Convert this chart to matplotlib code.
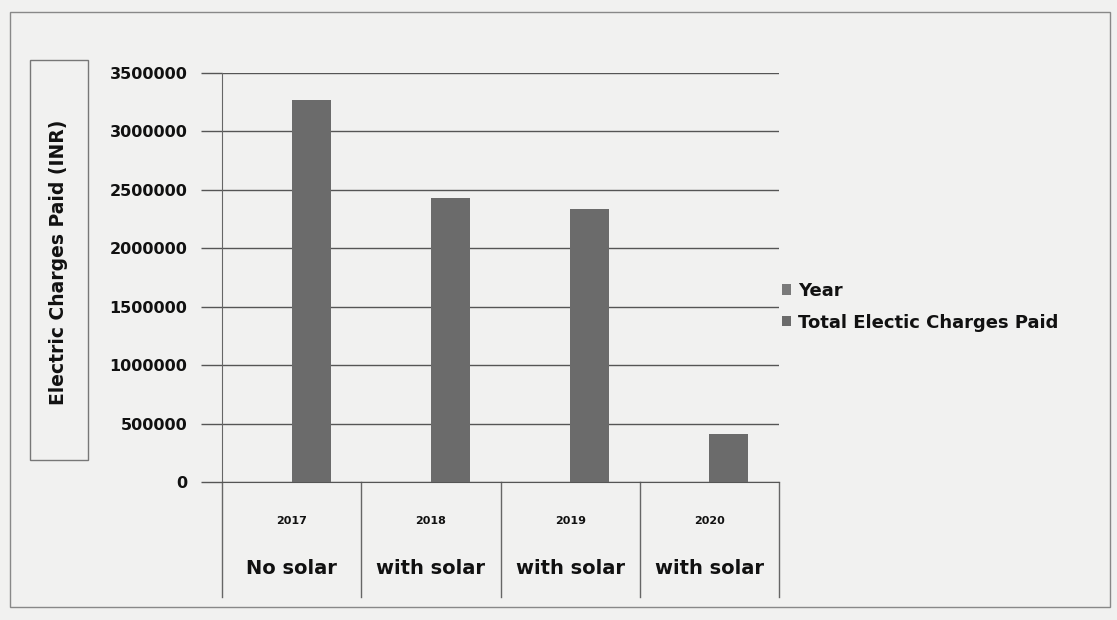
import matplotlib
matplotlib.use("Agg")
import matplotlib.pyplot as plt
from matplotlib.patches import Rectangle
import numpy as np

years = ["2017", "2018", "2019", "2020"]
conditions = ["No solar", "with solar", "with solar", "with solar"]
year_values = [2017, 2018, 2019, 2020]
total_charges = [3270000, 2430000, 2340000, 410000]
yticks = [0, 500000, 1000000, 1500000, 2000000, 2500000, 3000000, 3500000]

W, H = 1117, 620
fig = plt.figure(figsize=(W / 100, H / 100), dpi=100)
fig.patch.set_facecolor("#f1f1f0")
plt.rcParams['font.family'] = ['DejaVu Sans']

def fx(px):
    return px / W

def fy(py):
    return 1 - py / H

left, right, top, bottom = 222, 779, 73, 482
ax = fig.add_axes([fx(left), fy(bottom), fx(right - left), (bottom - top) / H])
ax.set_facecolor("none")

x = np.arange(len(years))
bw = 0.28
bar_col = "#6b6b6b"
b1 = ax.bar(x - bw / 2, year_values, width=bw, color="#7a7a7a", label="Year", zorder=3)
b2 = ax.bar(x + bw / 2, total_charges, width=bw, color=bar_col,
            label="Total Electic Charges Paid", zorder=3)

ax.set_xlim(-0.5, 3.5)
ax.set_ylim(0, 3500000)
ax.set_yticks(yticks)
ax.set_yticklabels([str(v) for v in yticks], fontsize=11.5, fontweight="bold", color="#111111")
ax.yaxis.grid(True, color="#555555", linewidth=1.0, zorder=1)
ax.set_xticks([])
for s in ["top", "right"]:
    ax.spines[s].set_visible(False)
ax.spines["left"].set_color("#666666")
ax.spines["bottom"].set_color("#555555")
ax.tick_params(axis="y", length=15, color="#555555", width=1.0, pad=10)

# multi-level category table below the axis
trans = ax.get_xaxis_transform()
tbl_bottom = -(597 - bottom) / (bottom - top)
for xv in np.arange(-0.5, 4.0, 1.0):
    ax.plot([xv, xv], [0, tbl_bottom], transform=trans, color="#666666",
            linewidth=1.0, clip_on=False)
for i in range(len(years)):
    ax.text(i, -(521 - bottom) / (bottom - top), years[i], transform=trans,
            ha="center", va="center", fontsize=8, fontweight="bold", color="#111111")
    ax.text(i, -(568 - bottom) / (bottom - top), conditions[i], transform=trans,
            ha="center", va="center", fontsize=14, fontweight="bold", color="#111111")

# y-label box
fig.patches.append(Rectangle((fx(30), fy(460)), fx(58), (460 - 60) / H,
                             transform=fig.transFigure, fill=False,
                             edgecolor="#777777", linewidth=1.0))
fig.text(fx(59), fy(262), "Electric Charges Paid (INR)", rotation=90,
         ha="center", va="center", fontsize=13.5, fontweight="bold", color="#111111")

# outer border
fig.patches.append(Rectangle((fx(10), fy(607)), fx(1100), (607 - 12) / H,
                             transform=fig.transFigure, fill=False,
                             edgecolor="#888888", linewidth=1.0))

leg = fig.legend(handles=[b1, b2], loc="upper left",
                 bbox_to_anchor=(fx(782), fy(282)), frameon=False,
                 prop={"size": 13, "weight": "bold"}, handlelength=0.5,
                 handleheight=0.5, handletextpad=0.4, labelspacing=0.75,
                 borderaxespad=0, borderpad=0)
for t in leg.get_texts():
    t.set_color("#111111")

fig.savefig("out.png", dpi=100, facecolor=fig.get_facecolor())
